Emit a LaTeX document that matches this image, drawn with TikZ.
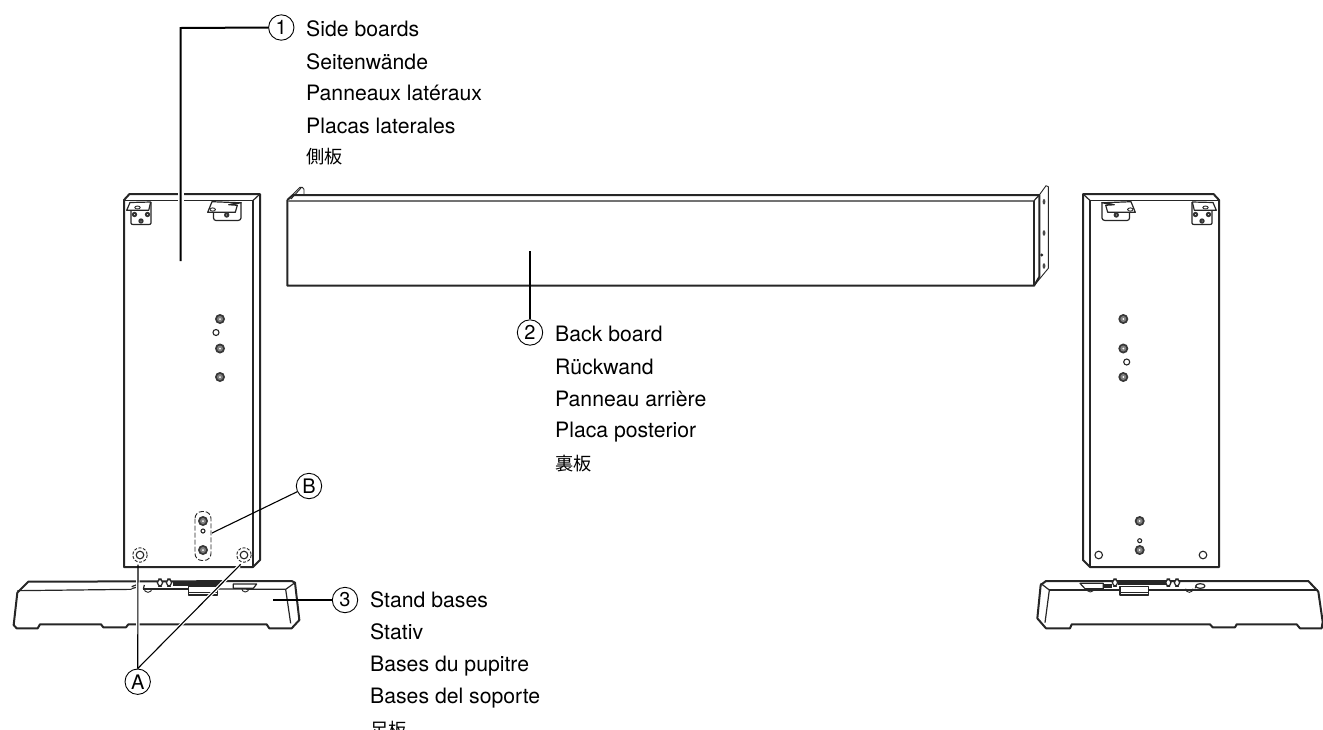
\documentclass[tikz,border=0pt]{standalone}
\usepackage{fontspec}
\setmainfont{TeX Gyre Heros}
\newfontfamily\cjk{Noto Sans CJK JP}
\newcommand\cjksize{\fontsize{18.2}{24}\selectfont\cjk}
\tikzset{
  heavy/.style={line width=2pt,line join=round,black!85},
  med/.style={line width=1.2pt,line join=round,black!85},
  thin part/.style={line width=.9pt,line join=round,black!85},
  leader/.style={line width=2pt,black},
  pointer/.style={line width=1.1pt,black},
  halo/.style={line width=3.5pt,white},
  callout/.style={circle,draw=black,line width=.9pt,minimum size=25.4pt,inner sep=0pt,font=\fontsize{20}{20}\selectfont},
  lbl/.style={anchor=base west,inner sep=0pt,font=\fontsize{21.2}{24}\selectfont},
  ring/.style={draw=black!85,line width=1.1pt,fill=white},
}
\newcommand\screw[2]{%
  \fill[black!78] (#1,#2) circle[radius=5];
  \fill[black!50] (#1,#2) circle[radius=3];
  \fill[white] (#1,#2) circle[radius=1];
}
\newcommand\boltmark[2]{%
  \fill[black!80] (#1,#2) circle[radius=2.7];
  \fill[white] (#1,#2) circle[radius=.5];
}
\newcommand\bhole[3]{\draw[ring] (#1,#2) circle[radius=#3];}
% board outline, left-hand version (the right one is its mirror image)
\newcommand\boardbody{%
  \draw[heavy] (124,567) -- (124,200) -- (129.5,194) -- (260,194) -- (260,560) -- (253,567) -- cycle;
  \draw[med] (124,200.5) -- (253,200.5) -- (253,567);
  \draw[med] (253,200.5) -- (260,194);
  % small bracket
  \draw[med,fill=white] (131,210) -- (131,223) to[out=-90,in=180] (133,224.5) -- (149,224.5) to[out=0,in=-90] (151,223) -- (151,202);
  \draw[med,fill=white] (126.7,210.3) -- (130,202.5) -- (150.7,202) -- (148.7,210.3) -- cycle;
  \draw[thin part] (137.5,207.5) ellipse[x radius=2.7,y radius=1.5];
  \boltmark{134.5}{214.5}\boltmark{147.5}{214.5}\boltmark{141}{221}
  % large bracket
  \draw[med] (213.5,212.3) -- (213.5,218) to[out=-90,in=180] (216,220.5) -- (238,220.5) to[out=0,in=-90] (241,218) -- (241,202);
  \draw[med,fill=white] (207.7,212.3) -- (212,201.7) -- (241,202.8) -- (228.7,204.7) -- (237.3,205.3) -- (235.3,212.3) -- cycle;
  \draw[thin part] (212.7,209.5) ellipse[x radius=2.7,y radius=1.6];
  \boltmark{226.7}{215}
}
\begin{document}
\begin{tikzpicture}[x=1pt,y=-1pt]
\useasboundingbox (0,0) rectangle (1323,729);
\clip (0,0) rectangle (1323,729);
\fill[white] (0,0) rectangle (1323,729);

% ---------- left side board
\boardbody
\screw{220}{319}\bhole{216}{332.5}{3}\screw{220}{348.5}\screw{220}{377}
\screw{203}{521}\bhole{203}{531}{2}\screw{203}{550}
\bhole{140}{555}{3.8}\bhole{244}{555}{3.8}
\draw[thin part,dash pattern=on 3pt off 1.6pt] (140,555) circle[radius=7.2];
\draw[thin part,dash pattern=on 3pt off 1.6pt] (244,555) circle[radius=7.2];
\draw[thin part,dash pattern=on 5pt off 2pt,rounded corners=7pt] (195,511.5) rectangle (211,560.5);

% ---------- right side board
\begin{scope}[shift={(1343,0)},xscale=-1]
\boardbody
\end{scope}
\screw{1123.3}{319}\screw{1123.3}{348.5}\bhole{1126.7}{362}{3}\screw{1123.3}{377}
\screw{1139.7}{521}\bhole{1139.7}{540.7}{2}\screw{1139.7}{550}
\bhole{1098.7}{555}{3.8}\bhole{1203}{555}{3.8}

% ---------- back board
\draw[heavy] (287.3,200) -- (287.3,285.7) -- (1034,285.7) -- (1039.3,277);
\draw[heavy] (287.3,200) -- (293,195) -- (1039.3,195) -- (1039.3,277);
\draw[line width=1.6pt,black!55] (288,200.7) -- (1034,200.7);
\draw[med] (1034,200.7) -- (1034,285.7);
\draw[med] (1034,200.7) -- (1039.3,195);
\draw[thin part] (287.3,200) -- (300,187.3) -- (302.3,187.3) -- (304,189.3) -- (304,195);
\draw[thin part] (291,199) -- (301,188);
\draw[thin part] (1039.3,195) -- (1046,185.7) -- (1048.3,186.7) -- (1048.3,268.3) -- (1034,285.7);
\foreach \yy in {201.7,233,266}{\fill[black!70] (1044,\yy) ellipse[x radius=1.4,y radius=2.8];}
\fill[black!85] (1041.7,255) circle[radius=1.6];

% ---------- left stand base (zoom coordinates)
\begin{scope}[shift={(0,470)},x=.33333pt,y=-.33333pt]
\draw[heavy,fill=white] (85,335) -- (875,333) -- (885,338) -- (898,450) -- (875,475) -- (808,475) -- (800,463) -- (385,463) -- (378,472) -- (310,472) -- (303,463) -- (120,463) -- (113,475) -- (50,475) -- (41,465) -- (52,368) -- cycle;
\draw[med] (52,362) -- (395,358);
\draw[med] (430,357) -- (565,357);
\draw[med] (652,357) -- (857,358) -- (885,338);
\draw[med] (857,358) -- (872,460);
\fill[black!85] (520,336) rectangle (660,347);
\draw[med] (395,350) -- (408,345);
\draw[med] (395,356) -- (408,352);
\draw[med] (430,357) -- (433,345);
\draw[thin part] (432,355) arc[start angle=180,end angle=0,radius=12];
\draw[med,fill=white] (700,342) -- (770,342) -- (760,355) -- (700,355) -- cycle;
\draw[thin part] (725,355) arc[start angle=180,end angle=0,radius=11];
\draw[med,fill=white] (565,350) rectangle (652,375);
\draw[thin part] (565,368) -- (652,368);
\draw[med,fill=white,rounded corners=4pt] (472,327) rectangle (488,349);
\draw[med,fill=white,rounded corners=4pt] (499,327) rectangle (515,349);
\end{scope}

% ---------- right stand base
\begin{scope}[shift={(1020,470)},x=.33333pt,y=-.33333pt]
\draw[heavy,fill=white] (78,333) -- (865,333) -- (895,365) -- (908,455) -- (905,475) -- (840,475) -- (830,463) -- (650,463) -- (645,472) -- (578,472) -- (570,463) -- (155,463) -- (150,475) -- (78,475) -- (52,445) -- (62,345) -- cycle;
\draw[med] (88,360) -- (300,360);
\draw[med] (385,360) -- (895,360);
\draw[med] (62,340) -- (88,360) -- (75,458);
\fill[black!85] (295,335) rectangle (440,345);
\draw[med,fill=white] (180,340) -- (250,340) -- (250,356) -- (195,356) -- cycle;
\draw[thin part] (200,355) arc[start angle=180,end angle=0,radius=11];
\draw[med,fill=black!85] (250,343) rectangle (275,353);
\draw[med,fill=white,rounded corners=4pt] (277,327) rectangle (293,349);
\draw[med,fill=white,rounded corners=4pt] (437,327) rectangle (453,349);
\draw[med,fill=white,rounded corners=4pt] (463,327) rectangle (479,349);
\draw[med,fill=white] (300,350) rectangle (385,375);
\draw[thin part] (300,368) -- (385,368);
\draw[thin part] (497,356) arc[start angle=180,end angle=0,radius=11];
\draw[thin part] (525,355) -- (530,345);
\draw[med,fill=white] (541,348) ellipse[x radius=14,y radius=7];
\end{scope}

% ---------- callouts
\node[callout] (c1) at (281.3,27.5) {1};
\node[callout] (c2) at (530,332.5) {2};
\node[callout] (c3) at (345,600) {3};
\node[callout] (ca) at (137.7,681.7) {A};
\node[callout] (cb) at (309,486) {B};

\coordinate (elbow) at (180.5,28);
\coordinate (p1) at (180.5,261);
\coordinate (p2) at (530,251);
\coordinate (p3) at (273,600);
\coordinate (pb) at (212,533);
\coordinate (pa1) at (138,564.5);
\coordinate (pa2) at (240.7,564.3);

\draw[line width=6pt,white] (180.5,191) -- (180.5,204);
\draw[leader] (c1.west) -- (elbow) -- (p1);
\draw[leader] (c2.north) -- (p2);
\draw[leader] (c3.west) -- (p3);
\draw[pointer] (cb) -- (pb);
\draw[halo,shorten >=8pt,shorten <=2pt] (ca.north) -- (pa1);
\draw[halo,shorten >=2pt,shorten <=6pt] (ca.north) -- (pa2);
\draw[pointer] (ca.north) -- (pa1);
\draw[pointer] (ca.north) -- (pa2);

% ---------- labels
\node[lbl] (t11) at (306,36.7) {Side boards};
\node[lbl] (t12) at (306,69) {Seitenwände};
\node[lbl] (t13) at (306,100.7) {Panneaux latéraux};
\node[lbl] (t14) at (306,133) {Placas laterales};
\node[lbl] (t15) at (306,163.5) {\cjksize 側板};

\node[lbl] (t21) at (555,341.7) {Back board};
\node[lbl] (t22) at (555,374) {Rückwand};
\node[lbl] (t23) at (555,406) {Panneau arrière};
\node[lbl] (t24) at (555,437.7) {Placa posterior};
\node[lbl] (t25) at (555,470) {\cjksize 裏板};

\node[lbl] (t31) at (370,607) {Stand bases};
\node[lbl] (t32) at (370,639) {Stativ};
\node[lbl] (t33) at (370,671) {Bases du pupitre};
\node[lbl] (t34) at (370,703) {Bases del soporte};
\node[lbl] (t35) at (370,736.5) {\cjksize 足板};
\end{tikzpicture}
\end{document}
